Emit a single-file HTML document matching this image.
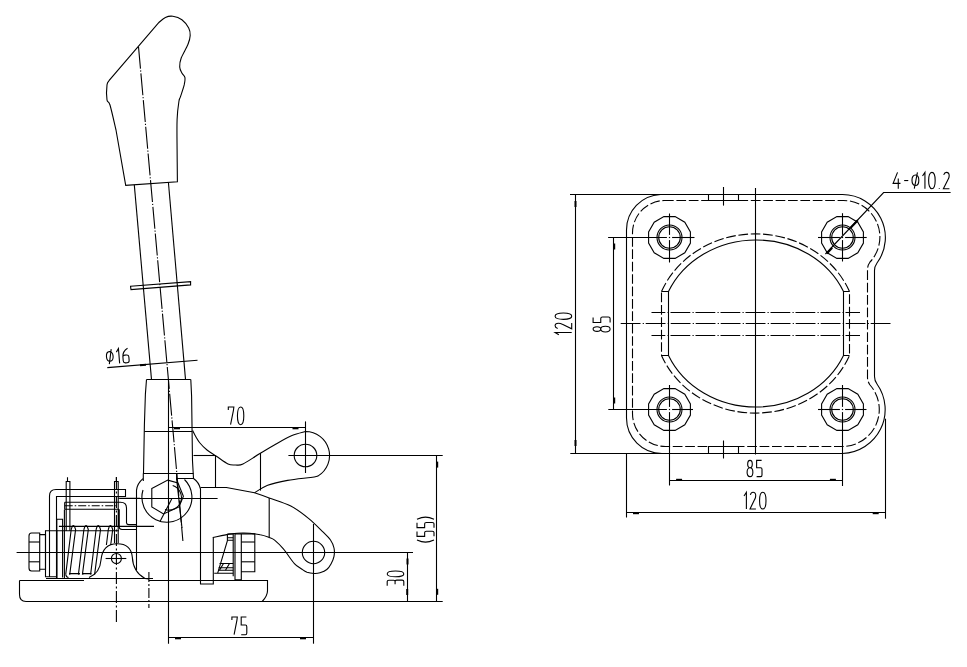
<!DOCTYPE html>
<html><head><meta charset="utf-8"><style>
html,body{margin:0;padding:0;background:#fff;width:967px;height:667px;overflow:hidden;font-family:"Liberation Sans",sans-serif;}
svg{display:block;}
</style></head><body>
<svg width="967" height="667" viewBox="0 0 967 667">
<rect width="967" height="667" fill="#fff"/>
<g fill="none" stroke="#000" stroke-width="1.1" stroke-linecap="butt" stroke-linejoin="miter">
<path d="M660.5,194.5H842.5A43,43 0 0 1 877,263Q874.5,266.5 874.5,270.5V376.5Q874.5,380.5 877,384A44,44 0 0 1 842.5,453.5H662A35.5,35.5 0 0 1 626.5,418V230A35.5,35.5 0 0 1 660.5,194.5Z"/>
<path d="M664,200.5H842.5A36.5,36.5 0 0 1 870,262Q867.5,265.5 867.5,269.5V377.5Q867.5,381.5 870,385A37,37 0 0 1 842.5,446.5H665.5A33,33 0 0 1 632.5,413.5V233A32.5,32.5 0 0 1 664,200.5Z" stroke-dasharray="9.7 2.7"/>
<path d="M668.5,291.5A95.5,86 0 0 1 843.5,291.5V355.5A95.5,86 0 0 1 668.5,355.5Z"/>
<path d="M661.5,291.5A101.5,92.5 0 0 1 849.5,291.5V355.5A101.5,92.5 0 0 1 661.5,355.5Z" stroke-dasharray="9.7 2.7"/>
<path d="M661.5,291.5H668.5M843.5,291.5H849.5M661.5,355.5H668.5M843.5,355.5H849.5"/>
<path d="M651.5,312.5L860,312.5" stroke-dasharray="19.8 2.2 1.2 1.8" stroke-dashoffset="6"/>
<path d="M619.3,323.5L891,323.5" stroke-dasharray="19.8 2.2 1.2 1.8" stroke-dashoffset="23.6"/>
<path d="M651.5,335.5L860,335.5" stroke-dasharray="19.8 2.2 1.2 1.8" stroke-dashoffset="6"/>
<path d="M755.5,188L755.5,454.5"/>
<path d="M708.5,194.5V200.5H738.5V194.5"/>
<path d="M723.5,187L723.5,205.6"/>
<path d="M708.5,453.5V446.5H738.5V453.5"/>
<path d="M723.5,440.5L723.5,458.5"/>
<polygon points="690.4,243.1 684.8,252.8 675.1,258.4 663.9,258.4 654.2,252.8 648.6,243.1 648.6,231.9 654.2,222.2 663.9,216.6 675.1,216.6 684.8,222.2 690.4,231.9"/>
<circle cx="669.5" cy="237.5" r="12.5"/>
<circle cx="669.5" cy="237.5" r="10.8"/>
<path d="M668.9,237.5H670.1" stroke-width="1.2"/>
<polygon points="863.4,243.1 857.8,252.8 848.1,258.4 836.9,258.4 827.2,252.8 821.6,243.1 821.6,231.9 827.2,222.2 836.9,216.6 848.1,216.6 857.8,222.2 863.4,231.9"/>
<circle cx="842.5" cy="237.5" r="12.5"/>
<circle cx="842.5" cy="237.5" r="10.8"/>
<path d="M841.9,237.5H843.1" stroke-width="1.2"/>
<polygon points="690.4,415.1 684.8,424.8 675.1,430.4 663.9,430.4 654.2,424.8 648.6,415.1 648.6,403.9 654.2,394.2 663.9,388.6 675.1,388.6 684.8,394.2 690.4,403.9"/>
<circle cx="669.5" cy="409.5" r="12.5"/>
<circle cx="669.5" cy="409.5" r="10.8"/>
<path d="M668.9,409.5H670.1" stroke-width="1.2"/>
<polygon points="863.4,415.1 857.8,424.8 848.1,430.4 836.9,430.4 827.2,424.8 821.6,415.1 821.6,403.9 827.2,394.2 836.9,388.6 848.1,388.6 857.8,394.2 863.4,403.9"/>
<circle cx="842.5" cy="409.5" r="12.5"/>
<circle cx="842.5" cy="409.5" r="10.8"/>
<path d="M841.9,409.5H843.1" stroke-width="1.2"/>
<path d="M608.1,237.5L666.9,237.5"/>
<path d="M672.1,237.5L694.5,237.5"/>
<path d="M669.5,213.5L669.5,234.9"/>
<path d="M669.5,240.1L669.5,262.5"/>
<path d="M818,237.5L839.9,237.5"/>
<path d="M845.1,237.5L866.7,237.5"/>
<path d="M842.5,213.2L842.5,234.9"/>
<path d="M842.5,240.1L842.5,261.5"/>
<path d="M608.3,409.5L666.9,409.5"/>
<path d="M672.1,409.5L693,409.5"/>
<path d="M669.5,385L669.5,406.9"/>
<path d="M669.5,412.1L669.5,485.5"/>
<path d="M818,409.5L839.9,409.5"/>
<path d="M845.1,409.5L866.5,409.5"/>
<path d="M842.5,385L842.5,406.9"/>
<path d="M842.5,412.1L842.5,486"/>
<path d="M825.4,254L883.6,192.5H950.6"/>
<path d="M826.8,253.6L832.2,247.8" stroke-width="2"/>
<path d="M850.2,228.3L857.8,220.2" stroke-width="2"/>
<g transform="translate(893.1,172.4) rotate(0) scale(1.0543,1.0188)"><path transform="translate(0.00,0)" d="M4.2,0L0,10.8H7M4.9,6V16" vector-effect="non-scaling-stroke"/><path transform="translate(10.50,0)" d="M0,8H3.9" vector-effect="non-scaling-stroke"/><path transform="translate(17.90,0)" d="M5.2,0L2.2,16M3.25,2.5C5.2,2.5 6.5,4.6 6.5,7.7C6.5,10.8 5.2,12.9 3.25,12.9C1.3,12.9 0,10.8 0,7.7C0,4.6 1.3,2.5 3.25,2.5Z" vector-effect="non-scaling-stroke"/><path transform="translate(27.90,0)" d="M0,3.6L2.3,0V16" vector-effect="non-scaling-stroke"/><path transform="translate(33.70,0)" d="M3.1,0C5.2,0 6.2,3.6 6.2,8C6.2,12.4 5.2,16 3.1,16C1,16 0,12.4 0,8C0,3.6 1,0 3.1,0Z" vector-effect="non-scaling-stroke"/><path transform="translate(43.40,0)" d="M0.4,15.2V16" vector-effect="non-scaling-stroke"/><path transform="translate(47.70,0)" d="M0.3,2.5C0.8,0.8 1.8,0 2.9,0C4.4,0 5.5,1.1 5.5,3.2C5.5,4.5 5.1,5.8 4.4,7L0,16H5.7" vector-effect="non-scaling-stroke"/></g>
<path d="M570,194.5L661,194.5"/>
<path d="M570.3,453.5L662,453.5"/>
<path d="M575.5,194.5L575.5,453.5"/>
<path d="M575.5,201L575.5,207" stroke-width="2"/>
<path d="M575.5,440L575.5,446" stroke-width="2"/>
<g transform="translate(563.4,323.9) rotate(-90) translate(-10.90,-8.30) scale(1.0283,1.0375)"><path transform="translate(0.00,0)" d="M0,3.6L2.3,0V16" vector-effect="non-scaling-stroke"/><path transform="translate(5.80,0)" d="M0.3,2.5C0.8,0.8 1.8,0 2.9,0C4.4,0 5.5,1.1 5.5,3.2C5.5,4.5 5.1,5.8 4.4,7L0,16H5.7" vector-effect="non-scaling-stroke"/><path transform="translate(15.00,0)" d="M3.1,0C5.2,0 6.2,3.6 6.2,8C6.2,12.4 5.2,16 3.1,16C1,16 0,12.4 0,8C0,3.6 1,0 3.1,0Z" vector-effect="non-scaling-stroke"/></g>
<path d="M613.5,237.5L613.5,409.5"/>
<path d="M614.2,243.5L614.2,249.5" stroke-width="2"/>
<path d="M614.2,397.5L614.2,403.5" stroke-width="2"/>
<g transform="translate(601.6,324.5) rotate(-90) translate(-7.45,-8.50) scale(0.9613,1.0625)"><path transform="translate(0.00,0)" d="M3,0C4.5,0 5.4,1.5 5.4,3.7C5.4,5.9 4.5,7.2 3,7.2C1.5,7.2 0.6,5.9 0.6,3.7C0.6,1.5 1.5,0 3,0ZM3,7.2C4.9,7.2 6,9 6,11.6C6,14.3 4.9,16 3,16C1.1,16 0,14.3 0,11.6C0,9 1.1,7.2 3,7.2Z" vector-effect="non-scaling-stroke"/><path transform="translate(9.50,0)" d="M5.6,0H0.4V7.2H4.6Q6,7.2 6,8.8V14.4Q6,16 4.6,16H0.4" vector-effect="non-scaling-stroke"/></g>
<path d="M626.5,453.5L626.5,517.5"/>
<path d="M885.5,418.7L885.5,518.7"/>
<path d="M626.5,512.5L885.5,512.5"/>
<path d="M633,513.2L639,513.2" stroke-width="2"/>
<path d="M872.7,513.2L878.7,513.2" stroke-width="2"/>
<g transform="translate(755.0,500.65) rotate(0) translate(-11.00,-8.35) scale(1.0377,1.0437)"><path transform="translate(0.00,0)" d="M0,3.6L2.3,0V16" vector-effect="non-scaling-stroke"/><path transform="translate(5.80,0)" d="M0.3,2.5C0.8,0.8 1.8,0 2.9,0C4.4,0 5.5,1.1 5.5,3.2C5.5,4.5 5.1,5.8 4.4,7L0,16H5.7" vector-effect="non-scaling-stroke"/><path transform="translate(15.00,0)" d="M3.1,0C5.2,0 6.2,3.6 6.2,8C6.2,12.4 5.2,16 3.1,16C1,16 0,12.4 0,8C0,3.6 1,0 3.1,0Z" vector-effect="non-scaling-stroke"/></g>
<path d="M669.5,480.5L842.5,480.5"/>
<path d="M676.1,479.8L682.1,479.8" stroke-width="2"/>
<path d="M829.9,479.8L835.9,479.8" stroke-width="2"/>
<g transform="translate(754.55,468.5) rotate(0) translate(-7.45,-8.10) scale(0.9613,1.0125)"><path transform="translate(0.00,0)" d="M3,0C4.5,0 5.4,1.5 5.4,3.7C5.4,5.9 4.5,7.2 3,7.2C1.5,7.2 0.6,5.9 0.6,3.7C0.6,1.5 1.5,0 3,0ZM3,7.2C4.9,7.2 6,9 6,11.6C6,14.3 4.9,16 3,16C1.1,16 0,14.3 0,11.6C0,9 1.1,7.2 3,7.2Z" vector-effect="non-scaling-stroke"/><path transform="translate(9.50,0)" d="M5.6,0H0.4V7.2H4.6Q6,7.2 6,8.8V14.4Q6,16 4.6,16H0.4" vector-effect="non-scaling-stroke"/></g>
<path d="M177.4,181.7C177.3,176.4 177.2,160.4 177.1,150.0C177.0,139.6 176.8,127.6 177.1,119.5C177.4,111.4 178.3,105.3 178.9,101.5C179.5,97.7 179.5,99.7 180.4,96.9C181.3,94.1 183.4,88.2 184.2,84.9C184.9,81.7 185.3,79.4 184.9,77.4C184.5,75.4 182.8,74.7 181.9,72.9C181.0,71.2 179.8,69.4 179.7,66.9C179.6,64.4 179.8,61.7 181.2,58.0C182.6,54.3 186.4,48.2 187.9,44.5C189.4,40.8 190.1,38.2 190.2,35.5C190.3,32.8 190.1,30.6 188.7,28.0C187.3,25.4 184.5,21.6 181.9,19.7C179.3,17.8 175.7,16.7 172.9,16.3C170.2,15.9 167.8,16.4 165.4,17.5C163.0,18.6 159.8,21.8 158.7,22.7L109.2,80.4C108.8,81.2 107.4,81.7 107.0,84.9C106.6,88.2 106.5,96.6 107.0,99.9C107.5,103.2 108.5,100.0 110.0,105.0C111.5,110.0 115.0,125.8 116.0,130.0L125.7,185.4Z"/>
<path d="M134.3,184.9L151.5,379.6"/>
<path d="M168.4,182.3L185.5,379.4"/>
<path d="M138.5,46.7L182.9,541" stroke-dasharray="22 1.8 1.2 1.8"/>
<path d="M130.5,286.2L190.6,281.6V284.9L131,289.6Z"/>
<path d="M107.3,367.6L197.5,360.2"/>
<g transform="translate(105.9,349.6) rotate(-4.6) scale(1.0229,0.9250)"><path transform="translate(0.00,0)" d="M5.2,0L2.2,16M3.25,2.5C5.2,2.5 6.5,4.6 6.5,7.7C6.5,10.8 5.2,12.9 3.25,12.9C1.3,12.9 0,10.8 0,7.7C0,4.6 1.3,2.5 3.25,2.5Z" vector-effect="non-scaling-stroke"/><path transform="translate(10.00,0)" d="M0,3.6L2.3,0V16" vector-effect="non-scaling-stroke"/><path transform="translate(15.80,0)" d="M5.4,0.4C3,1.8 0.3,4.5 0.2,9V13.6Q0.2,16 2.5,16H3.8Q6,16 6,13.6V10.2Q6,7.6 3.8,7.6H2.2Q0.9,7.6 0.2,8.8" vector-effect="non-scaling-stroke"/></g>
<path d="M140,365.2L146,364.7" stroke-width="2"/>
<path d="M146.5,379.5H190.8"/>
<path d="M146.5,379.5L145.4,394.1L144.4,424.6L143.5,473.5H193.5"/>
<path d="M190.8,379.5L191.6,396.2L192.5,461L193.5,478.5H176.6"/>
<path d="M144.4,431.5L192.3,431.5"/>
<path d="M136.5,570.5V490.3Q137.1,483.5 143,478.6"/>
<path d="M193.5,478.5Q198.8,482 200.5,489V584H213.3V537.3"/>
<path d="M143,490A25,25 0 1 0 184.5,479.5"/>
<path d="M176.6,478.5L182,528"/>
<path d="M176.6,473.5L176.6,480"/>
<path d="M143.3,473.5L143.3,481"/>
<path d="M151.8,488.4L167.8,480.1L178,483L183.4,496.2L179,506.9L163.5,514L151.8,506.9Z"/>
<path d="M172.7,485.5A11.5,11.5 0 1 1 165,509.5"/>
<path d="M171.7,499L160,521.5"/>
<path d="M120,498.5L217.6,498.5"/>
<path d="M168.5,379.5L168.5,643.7"/>
<path d="M168.5,427.5L305.5,427.5"/>
<path d="M174,428.3L180,428.3" stroke-width="2"/>
<path d="M292.5,428.3L298.5,428.3" stroke-width="2"/>
<g transform="translate(228.3,407.0) rotate(0) scale(1.0265,1.1062)"><path transform="translate(0.00,0)" d="M0,2.8V0H5.4L5,3L2.2,16" vector-effect="non-scaling-stroke"/><path transform="translate(8.90,0)" d="M3.1,0C5.2,0 6.2,3.6 6.2,8C6.2,12.4 5.2,16 3.1,16C1,16 0,12.4 0,8C0,3.6 1,0 3.1,0Z" vector-effect="non-scaling-stroke"/></g>
<path d="M305.5,421.4L305.5,473"/>
<path d="M192.6,430.5C193.2,431.6 194.8,435.0 196.0,437.0C197.2,439.0 197.7,440.3 199.5,442.5C201.3,444.7 204.2,447.8 207.0,450.0C209.8,452.2 212.5,453.7 216.0,456.0C219.5,458.3 224.8,462.5 228.0,464.0C231.2,465.5 233.0,465.0 235.5,465.0C238.0,465.0 239.0,465.9 243.0,464.0C247.0,462.1 254.0,457.1 259.5,453.8C265.0,450.5 270.6,447.1 276.0,444.0C281.4,440.9 287.1,437.6 292.0,435.5C296.9,433.4 303.2,432.2 305.5,431.5A24,24 0 0 1 318.2,475.9C316.9,476.2 315.8,476.8 310.7,477.5C305.6,478.2 294.8,479.1 287.6,480.4C280.4,481.7 273.2,483.2 267.7,485.3C262.2,487.4 256.7,491.6 254.5,492.8"/>
<circle cx="305.5" cy="455.5" r="11.3"/>
<path d="M288.4,455.5L442.7,455.5"/>
<path d="M193.5,455.5L215.5,455.5"/>
<path d="M215.5,455.5L215.5,487.5"/>
<path d="M260.5,453L260.5,490.6"/>
<path d="M200.5,487.5H226.4L254.5,492.8C256.9,493.6 263.1,495.7 269.2,497.9C275.2,500.1 284.2,502.6 290.8,506.0C297.4,509.4 303.4,514.2 308.8,518.6C314.2,523.0 320.8,529.9 323.2,532.1C324.4,533.4 328.7,537.4 330.5,540.0C332.3,542.6 333.4,545.3 334.0,548.0C334.6,550.7 334.5,553.7 334.0,556.4C333.5,559.1 332.2,561.8 331.0,564.0C329.8,566.2 328.6,568.0 326.8,569.5C325.0,571.0 322.1,572.1 320.0,572.8C317.9,573.5 316.4,573.6 314.2,573.5C312.0,573.4 309.1,573.0 307.0,572.3C304.9,571.5 303.7,570.5 301.6,569.0C299.5,567.5 297.4,566.9 294.4,563.6C291.4,560.3 286.9,553.1 283.6,549.2C280.3,545.3 277.0,542.2 274.6,540.2C272.2,538.2 271.6,538.4 269.2,537.5C266.8,536.6 264.4,535.5 260.2,534.8C256.0,534.0 248.8,533.1 244.0,533.0C239.2,532.9 236.6,533.1 231.4,533.9C226.2,534.6 215.9,536.9 212.8,537.5"/>
<path d="M269.2,497.9L269.2,537.5"/>
<circle cx="313.5" cy="552.5" r="11.2"/>
<path d="M313.5,524L313.5,643.7"/>
<path d="M16.6,552.5L413,552.5"/>
<path d="M235,533.9H254.8V571.7H241.3V533.9M235,533.9V579.8H241.3V571.7"/>
<path d="M241.3,542L254.8,542"/>
<path d="M241.3,561.8L254.8,561.8"/>
<path d="M227.4,534H233.2V576.2"/>
<path d="M227.4,534V540.6L217.7,573.2"/>
<path d="M227.4,537.7H233.2M227.4,540.3H233.2"/>
<path d="M219.5,563.5H233.2M218.6,567.8H233.2M218,570.3H233.2M214.2,573.2H233.2"/>
<path d="M219.5,570.3L223.5,563.5M225.5,570.3L229.5,563.5"/>
<path d="M19.5,580.5V594.6Q19.5,601.5 26,601.5H442.7"/>
<path d="M19.5,580.5H84M46,578.5H153M148.8,580.5H267.5V590.8Q267.5,596 262.2,601.5"/>
<path d="M49.5,577V496Q49.5,489.5 56,489.5H125.5V496.5H56.5V579"/>
<path d="M66.2,530.9V481.5H69.9V530.9M67.5,477.3V481.5"/>
<path d="M114.5,543V481.5H118.2V543M116.4,477.3V481.5"/>
<path d="M64.7,502.3H120.5Q126.5,502.3 126.5,508V522.8Q126.8,524.6 128.8,524.6H136M64.7,502.3V509.3H118.9"/>
<path d="M64.7,505.7L118.2,505.7" stroke-dasharray="8 2 1.5 2"/>
<path d="M118.9,509.3V526.4" stroke-width="1.8"/>
<path d="M118.9,526.4Q119.3,529.5 122,529.5H136"/>
<path d="M118.2,498.3L140,498.3"/>
<path d="M56.8,530.9V519.3H62.6V577.5"/>
<path d="M58.9,526.4L154,526.4"/>
<path d="M45.2,530.7L118.8,530.7"/>
<path d="M71.2,529.5Q73.3,521.8 75.6,529.5L69.7,574.6M71.2,529.5L65.7,574.6"/>
<path d="M83.9,529.5Q86.0,521.8 88.3,529.5L82.4,574.6M83.9,529.5L78.4,574.6"/>
<path d="M96.10000000000001,529.5Q98.2,521.8 100.5,529.5L94.6,574.6M96.10000000000001,529.5L90.6,574.6"/>
<path d="M108.3,529.5Q110.39999999999999,521.8 112.69999999999999,529.5L110.7,545M108.3,529.5L106.4,545"/>
<path d="M65.7,574.6Q66.5,577.5 68.5,577.5M69.6,574.6V573.6H79.4V574.6M83.3,574.6V573.6H91.5"/>
<path d="M45.5,530.5V576.7H57M57,530.5V579"/>
<path d="M64.4,509.7V579"/>
<path d="M31.5,533H39.7V571H31.5Q29,571 29,568V536Q29,533 31.5,533Z"/>
<path d="M29,542L39.7,542"/>
<path d="M29,561.8L39.7,561.8"/>
<path d="M39.7,534.6H45.5V569.3H39.7"/>
<path d="M89,577.5Q100,573 101,560Q102.5,543.7 117.2,543.7Q131,543.7 132.3,557Q133,572 145,578.5L149,579"/>
<circle cx="116.4" cy="558.5" r="5"/>
<path d="M105.6,558.5L126.3,558.5"/>
<path d="M116.4,477L116.4,622" stroke-dasharray="12 2.5 2 2.5"/>
<path d="M148.9,572L148.9,608" stroke-dasharray="10 2 2 2"/>
<path d="M168.5,637.5L313.5,637.5"/>
<path d="M175,638.3L181,638.3" stroke-width="2"/>
<path d="M300,638.3L306,638.3" stroke-width="2"/>
<g transform="translate(231.9,617.0) rotate(0) scale(1.0000,1.1062)"><path transform="translate(0.00,0)" d="M0,2.8V0H5.4L5,3L2.2,16" vector-effect="non-scaling-stroke"/><path transform="translate(8.90,0)" d="M5.6,0H0.4V7.2H4.6Q6,7.2 6,8.8V14.4Q6,16 4.6,16H0.4" vector-effect="non-scaling-stroke"/></g>
<path d="M407.5,552.5L407.5,601.5"/>
<path d="M407.5,558.5L407.5,564.5" stroke-width="2"/>
<path d="M407.2,589L407.2,595" stroke-width="2"/>
<g transform="translate(395.5,578.35) rotate(-90) translate(-7.35,-8.30) scale(0.9363,1.0375)"><path transform="translate(0.00,0)" d="M0,0H4.4Q5.8,0 5.8,1.6V6.2Q5.8,7.6 4.4,7.6H1.6M4.4,7.6Q6,7.6 6,9.2V14.4Q6,16 4.4,16H0" vector-effect="non-scaling-stroke"/><path transform="translate(9.50,0)" d="M3.1,0C5.2,0 6.2,3.6 6.2,8C6.2,12.4 5.2,16 3.1,16C1,16 0,12.4 0,8C0,3.6 1,0 3.1,0Z" vector-effect="non-scaling-stroke"/></g>
<path d="M436.5,455.5L436.5,601.5"/>
<path d="M437.2,461.6L437.2,467.6" stroke-width="2"/>
<path d="M437.2,588.8L437.2,594.8" stroke-width="2"/>
<g transform="translate(425.5,529.6) rotate(-90) translate(-12.50,-8.50) scale(0.9158,1.0625)"><path transform="translate(0.00,0)" d="M2.4,0C0.8,3 0,5.5 0,8C0,10.5 0.8,13 2.4,16" vector-effect="non-scaling-stroke"/><path transform="translate(5.90,0)" d="M5.6,0H0.4V7.2H4.6Q6,7.2 6,8.8V14.4Q6,16 4.6,16H0.4" vector-effect="non-scaling-stroke"/><path transform="translate(15.40,0)" d="M5.6,0H0.4V7.2H4.6Q6,7.2 6,8.8V14.4Q6,16 4.6,16H0.4" vector-effect="non-scaling-stroke"/><path transform="translate(24.90,0)" d="M0,0C1.6,3 2.4,5.5 2.4,8C2.4,10.5 1.6,13 0,16" vector-effect="non-scaling-stroke"/></g>
</g></svg></body></html>
